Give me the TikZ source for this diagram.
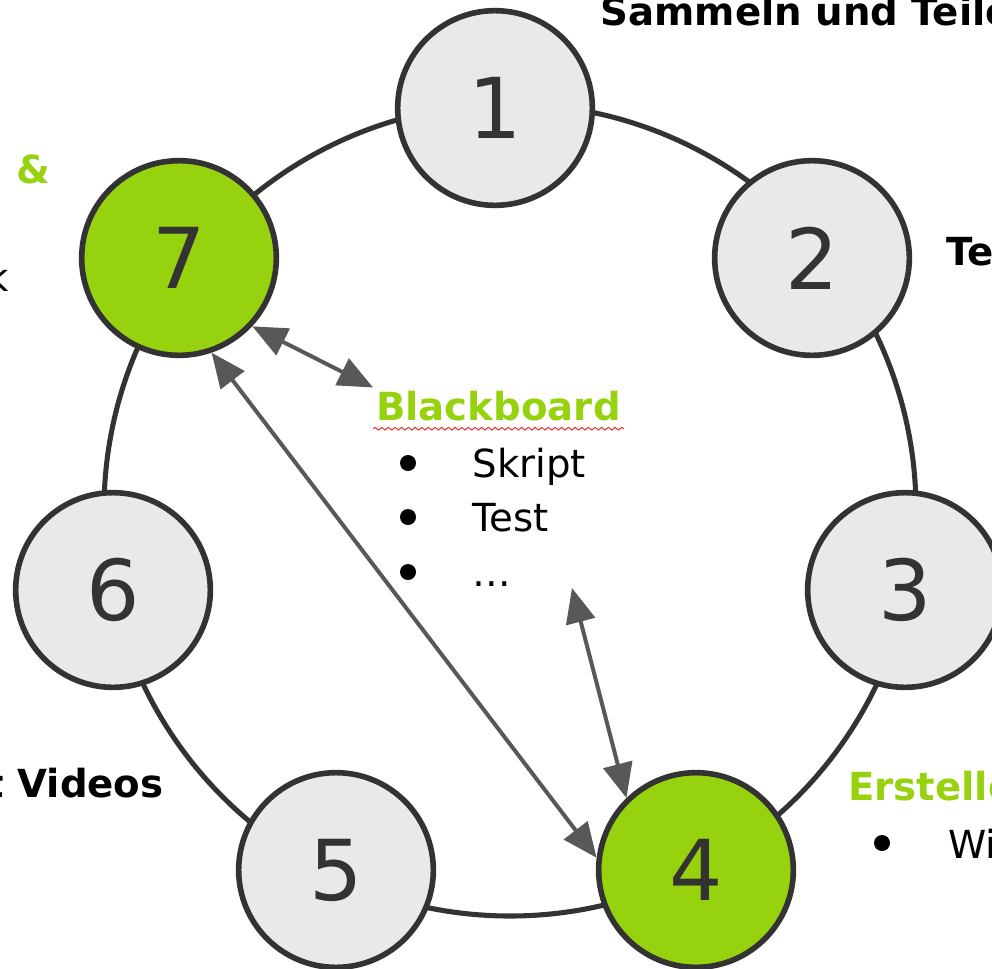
\documentclass[tikz,border=0pt]{standalone}
\usepackage{fontspec}
\setmainfont{DejaVu Sans}
\usetikzlibrary{arrows.meta,calc,decorations.pathmorphing}

\definecolor{ringgray}{RGB}{51,51,51}
\definecolor{stepgreen}{RGB}{151,210,14}
\definecolor{stepfill}{RGB}{233,233,233}
\definecolor{arrowgray}{RGB}{88,88,88}
\definecolor{squiggle}{RGB}{220,60,60}

\tikzset{every picture/.style={line width=0.75pt}}
\tikzset{
  stepnode/.style={circle, draw=ringgray, line width=4.2pt, fill=stepfill, minimum size=146pt,
    inner sep=0pt, text=ringgray, font=\fontsize{63}{63}\selectfont},
  greenstep/.style={stepnode, fill=stepgreen},
  dblarrow/.style={draw=arrowgray, line width=3pt,
    {Triangle[length=26pt,width=22pt]}-{Triangle[length=26pt,width=22pt]}},
  headtext/.style={inner sep=0pt, font=\fontsize{29}{34}\selectfont\bfseries},
  itemtext/.style={inner sep=0pt, font=\fontsize{29}{34}\selectfont},
  bulletdot/.style={circle, fill=black, inner sep=0pt, minimum size=12pt},
}

\begin{document}
\begin{tikzpicture}[x=0.75pt,y=0.75pt,yscale=-1,xscale=1]
	\useasboundingbox (0,0) rectangle (992,968);
	\clip (0,0) rectangle (992,968);
	
	%Ring
	\draw [draw=ringgray, line width=3.8pt] (510,510) circle (406);
	
	%Step circles
	\node [stepnode] (n1) at (495,108) {1};
	\node [stepnode] (n2) at (812,258) {2};
	\node [stepnode] (n3) at (905,590) {3};
	\node [greenstep] (n4) at (696,870) {4};
	\node [stepnode] (n5) at (336,870) {5};
	\node [stepnode] (n6) at (113,590) {6};
	\node [greenstep] (n7) at (179,258) {7};
	
	% Text Node
	\node [headtext, anchor=base west] (top) at (600,25) {Sammeln und Teile};
	\node [headtext, anchor=base west] (right) at (946,265) {Te};
	\node [headtext, anchor=base east] (videos) at (164,797) {t Videos};
	\node [headtext, anchor=base east, text=stepgreen] (amp) at (51,183) {n \&};
	\node [itemtext, anchor=base east] (leftk) at (9,291) {k};
	
	%Blackboard box
	\node [headtext, anchor=base west, text=stepgreen, inner sep=2pt] (bb) at (373,420) {Blackboard};
	\draw [squiggle, line width=0.8pt, decorate, decoration={snake, amplitude=1pt, segment length=5pt}]
		($(bb.south west)+(0,5)$) -- ($(bb.south east)+(0,5)$);
	\node [bulletdot] (b1) at (408,463) {};
	\node [itemtext, anchor=base west] (skript) at (472,477) {Skript};
	\node [bulletdot] (b2) at (408,517) {};
	\node [itemtext, anchor=base west] (test) at (472,531) {Test};
	\node [bulletdot] (b3) at (408,572) {};
	\node [itemtext, anchor=base west] (dots) at (472,586) {…};
	\coordinate (listend) at (572,588);
	
	%Erstellen
	\node [headtext, anchor=base west, text=stepgreen] (erst) at (848,800) {Erstelle};
	\node [bulletdot] (b4) at (882,843) {};
	\node [itemtext, anchor=base west] (wi) at (948,858) {Wi};
	
	%Arrows
	\draw [dblarrow] (n7.-43) -- (bb.north west);
	\draw [dblarrow] (n7.-71) -- (n4.173);
	\draw [dblarrow] (n4.134) -- (listend);
	
\end{tikzpicture}
\end{document}
